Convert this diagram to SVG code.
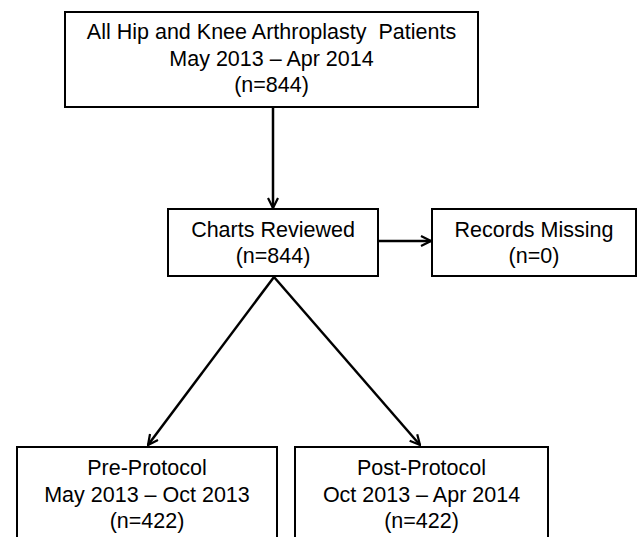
<svg xmlns="http://www.w3.org/2000/svg" width="637" height="537" viewBox="0 0 637 537">
<style>
.box{fill:#fff;stroke:#000;stroke-width:2}
.t{font-family:"Liberation Sans",Arial,sans-serif;font-size:21.5px;fill:#000;text-anchor:middle}
.c{fill:none;stroke:#000;stroke-width:2.5}
</style>
<defs>
<marker id="ah" viewBox="0 0 12 12" refX="11" refY="6" markerWidth="12" markerHeight="12" markerUnits="userSpaceOnUse" orient="auto">
<path d="M1,1 L11,6 L1,11" fill="none" stroke="#000" stroke-width="2.2"/>
</marker>
</defs>
<rect width="637" height="537" fill="#fff"/>
<g id="connectors">
<line class="c" x1="273" y1="107" x2="273" y2="208" marker-end="url(#ah)"/>
<line class="c" x1="378" y1="241" x2="431" y2="241" marker-end="url(#ah)"/>
<line class="c" x1="274" y1="277" x2="148" y2="445" marker-end="url(#ah)"/>
<line class="c" x1="274" y1="277" x2="420" y2="445" marker-end="url(#ah)"/>
</g>
<g id="all">
<rect class="box" x="65" y="12" width="413" height="95"/>
<text class="t" x="271.5" y="39">All Hip and Knee Arthroplasty&#160; Patients</text>
<text class="t" x="271.5" y="66">May 2013 – Apr 2014</text>
<text class="t" x="271.5" y="92">(n=844)</text>
</g>
<g id="charts">
<rect class="box" x="168" y="209" width="210" height="67"/>
<text class="t" x="273" y="237">Charts Reviewed</text>
<text class="t" x="273" y="263">(n=844)</text>
</g>
<g id="missing">
<rect class="box" x="432" y="209" width="204" height="67"/>
<text class="t" x="534" y="237">Records Missing</text>
<text class="t" x="534" y="263">(n=0)</text>
</g>
<g id="pre">
<rect class="box" x="17" y="447" width="260" height="100"/>
<text class="t" x="147" y="475">Pre-Protocol</text>
<text class="t" x="147" y="502">May 2013 – Oct 2013</text>
<text class="t" x="147" y="528">(n=422)</text>
</g>
<g id="post">
<rect class="box" x="295" y="447" width="253" height="100"/>
<text class="t" x="421.5" y="475">Post-Protocol</text>
<text class="t" x="421.5" y="502">Oct 2013 – Apr 2014</text>
<text class="t" x="421.5" y="528">(n=422)</text>
</g>
</svg>
